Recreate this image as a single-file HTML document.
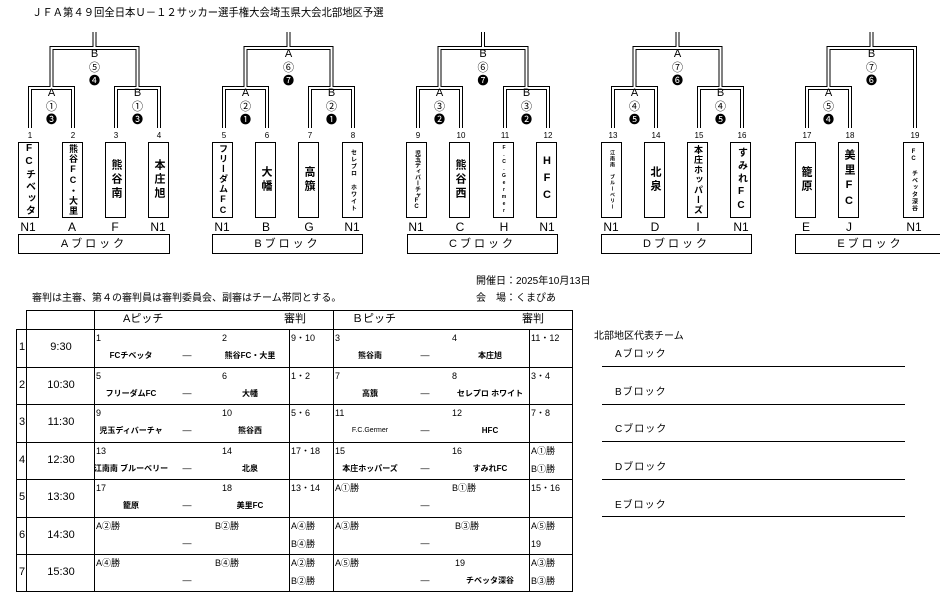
<!DOCTYPE html>
<html><head><meta charset="utf-8">
<style>
*{margin:0;padding:0;box-sizing:border-box}
body{width:940px;height:598px;background:#fff;position:relative;overflow:hidden;font-family:"Liberation Sans","Noto Sans CJK JP",sans-serif;color:#000}
.a{position:absolute;white-space:nowrap;line-height:1}
.box{position:absolute;top:142px;width:21px;height:76px;border:1px solid #000;writing-mode:vertical-rl;text-orientation:upright;font-weight:bold;display:flex;align-items:center;justify-content:center;line-height:1;overflow:hidden;white-space:nowrap}
.blk{position:absolute;top:234px;height:20px;border:1px solid #000;font-size:11px;text-align:center;line-height:18px;letter-spacing:3px}
.n{font-size:9px}
.t{font-size:8px;font-weight:bold;transform:translateX(-50%)}
.c{transform:translateX(-50%)}
.hl{position:absolute;height:1px;background:#000}
.vl{position:absolute;width:1px;background:#000}
</style></head><body>
<div class="a" style="left:32px;top:8px;font-size:11px;transform-origin:0 0;transform:scaleX(0.94)">ＪＦＡ第４９回全日本Ｕ－１２サッカー選手権大会埼玉県大会北部地区予選</div>

<svg width="940" height="260" style="position:absolute;left:0;top:0" font-family="Liberation Sans, Noto Sans CJK JP, sans-serif">
<g fill="none" stroke="#000" stroke-width="4">
<path d="M30 128V88H73V128M116 128V88H159V128M51.5 88V48H137.5V88M94.5 48V32"/>
<path d="M224 128V88H267V128M310 128V88H353V128M245.5 88V48H331.5V88M288.5 48V32"/>
<path d="M418 128V88H461V128M505 128V88H548V128M439.5 88V48H526.5V88M483 48V32"/>
<path d="M613 128V88H656V128M699 128V88H742V128M634.5 88V48H720.5V88M677.5 48V32"/>
<path d="M807 128V88H850V128M828.5 88V48H915V128M871.5 48V32"/>
</g>
<g fill="none" stroke="#fff" stroke-width="2">
<path d="M30 129V88H73V129M116 129V88H159V129M51.5 88V48H137.5V88M94.5 48V31"/>
<path d="M224 129V88H267V129M310 129V88H353V129M245.5 88V48H331.5V88M288.5 48V31"/>
<path d="M418 129V88H461V129M505 129V88H548V129M439.5 88V48H526.5V88M483 48V31"/>
<path d="M613 129V88H656V129M699 129V88H742V129M634.5 88V48H720.5V88M677.5 48V31"/>
<path d="M807 129V88H850V129M828.5 88V48H915V129M871.5 48V31"/>
</g>
<g font-size="11" text-anchor="middle">
<text x="51.5" y="96">A</text><text x="51.5" y="110">①</text><text x="51.5" y="123">❸</text>
<text x="137.5" y="96">B</text><text x="137.5" y="110">①</text><text x="137.5" y="123">❸</text>
<text x="94.5" y="57">B</text><text x="94.5" y="71">⑤</text><text x="94.5" y="84">❹</text>
<text x="245.5" y="96">A</text><text x="245.5" y="110">②</text><text x="245.5" y="123">❶</text>
<text x="331.5" y="96">B</text><text x="331.5" y="110">②</text><text x="331.5" y="123">❶</text>
<text x="288.5" y="57">A</text><text x="288.5" y="71">⑥</text><text x="288.5" y="84">❼</text>
<text x="439.5" y="96">A</text><text x="439.5" y="110">③</text><text x="439.5" y="123">❷</text>
<text x="526.5" y="96">B</text><text x="526.5" y="110">③</text><text x="526.5" y="123">❷</text>
<text x="483" y="57">B</text><text x="483" y="71">⑥</text><text x="483" y="84">❼</text>
<text x="634.5" y="96">A</text><text x="634.5" y="110">④</text><text x="634.5" y="123">❺</text>
<text x="720.5" y="96">B</text><text x="720.5" y="110">④</text><text x="720.5" y="123">❺</text>
<text x="677.5" y="57">A</text><text x="677.5" y="71">⑦</text><text x="677.5" y="84">❻</text>
<text x="828.5" y="96">A</text><text x="828.5" y="110">⑤</text><text x="828.5" y="123">❹</text>
<text x="871.5" y="57">B</text><text x="871.5" y="71">⑦</text><text x="871.5" y="84">❻</text>
</g>
<g font-size="8" text-anchor="middle">
<text x="30" y="138">1</text><text x="73" y="138">2</text><text x="116" y="138">3</text><text x="159" y="138">4</text>
<text x="224" y="138">5</text><text x="267" y="138">6</text><text x="310" y="138">7</text><text x="353" y="138">8</text>
<text x="418" y="138">9</text><text x="461" y="138">10</text><text x="505" y="138">11</text><text x="548" y="138">12</text>
<text x="613" y="138">13</text><text x="656" y="138">14</text><text x="699" y="138">15</text><text x="742" y="138">16</text>
<text x="807" y="138">17</text><text x="850" y="138">18</text><text x="915" y="138">19</text>
</g>
<g font-size="12" text-anchor="middle">
<text x="28" y="231">N1</text><text x="72" y="231">A</text><text x="115" y="231">F</text><text x="158" y="231">N1</text>
<text x="222" y="231">N1</text><text x="266" y="231">B</text><text x="309" y="231">G</text><text x="352" y="231">N1</text>
<text x="416" y="231">N1</text><text x="460" y="231">C</text><text x="504" y="231">H</text><text x="547" y="231">N1</text>
<text x="611" y="231">N1</text><text x="655" y="231">D</text><text x="698" y="231">I</text><text x="741" y="231">N1</text>
<text x="806" y="231">E</text><text x="849" y="231">J</text><text x="914" y="231">N1</text>
</g>
</svg>

<div class="box" style="left:18px;font-size:10px;letter-spacing:2px">FCチベッタ</div>
<div class="box" style="left:62px;font-size:9px;letter-spacing:1px">熊谷FC・大里</div>
<div class="box" style="left:105px;font-size:11px;letter-spacing:3px">熊谷南</div>
<div class="box" style="left:148px;font-size:11px;letter-spacing:3px">本庄旭</div>
<div class="box" style="left:212px;font-size:9px;letter-spacing:1px">フリーダムFC</div>
<div class="box" style="left:255px;font-size:11px;letter-spacing:3px">大幡</div>
<div class="box" style="left:298px;font-size:11px;letter-spacing:3px">高籏</div>
<div class="box" style="left:342px;font-size:6px;letter-spacing:1px">セレプロ　ホワイト</div>
<div class="box" style="left:406px;font-size:6px">児玉ディバーチャFC</div>
<div class="box" style="left:449px;font-size:11px;letter-spacing:3px">熊谷西</div>
<div class="box" style="left:493px;font-size:5px;letter-spacing:1px">F.C.Germer</div>
<div class="box" style="left:536px;font-size:11px;letter-spacing:5px">HFC</div>
<div class="box" style="left:601px;font-size:5px;letter-spacing:1px">江南南　ブルーベリー</div>
<div class="box" style="left:644px;font-size:11px;letter-spacing:3px">北泉</div>
<div class="box" style="left:687px;font-size:9px;letter-spacing:1px">本庄ホッパーズ</div>
<div class="box" style="left:730px;font-size:10px;letter-spacing:3px">すみれFC</div>
<div class="box" style="left:795px;font-size:11px;letter-spacing:3px">籠原</div>
<div class="box" style="left:838px;font-size:11px;letter-spacing:4px">美里FC</div>
<div class="box" style="left:903px;font-size:6px;letter-spacing:1px">FC　チベッタ深谷</div>

<div class="blk" style="left:18px;width:152px">Aブロック</div>
<div class="blk" style="left:212px;width:151px">Bブロック</div>
<div class="blk" style="left:407px;width:151px">Cブロック</div>
<div class="blk" style="left:601px;width:151px">Dブロック</div>
<div class="blk" style="left:795px;width:151px">Eブロック</div>

<div class="a" style="left:476px;top:277px;font-size:10px">開催日：2025年10月13日</div>
<div class="a" style="left:32px;top:294px;font-size:10px">審判は主審、第４の審判員は審判委員会、副審はチーム帯同とする。</div>
<div class="a" style="left:476px;top:294px;font-size:10px">会　場：くまぴあ</div>

<div class="hl" style="left:26px;top:310px;width:547px"></div>
<div class="hl" style="left:16px;top:329px;width:557px"></div>
<div class="hl" style="left:16px;top:367px;width:557px"></div>
<div class="hl" style="left:16px;top:404px;width:557px"></div>
<div class="hl" style="left:16px;top:442px;width:557px"></div>
<div class="hl" style="left:16px;top:479px;width:557px"></div>
<div class="hl" style="left:16px;top:517px;width:557px"></div>
<div class="hl" style="left:16px;top:554px;width:557px"></div>
<div class="hl" style="left:16px;top:591px;width:557px"></div>
<div class="vl" style="left:16px;top:329px;height:263px"></div>
<div class="vl" style="left:26px;top:310px;height:282px"></div>
<div class="vl" style="left:94px;top:310px;height:282px"></div>
<div class="vl" style="left:289px;top:329px;height:263px"></div>
<div class="vl" style="left:333px;top:310px;height:282px"></div>
<div class="vl" style="left:529px;top:329px;height:263px"></div>
<div class="vl" style="left:572px;top:310px;height:282px"></div>

<div class="a" style="left:123px;top:314px;font-size:11px">Aピッチ</div>
<div class="a" style="left:284px;top:314px;font-size:11px">審判</div>
<div class="a" style="left:352px;top:314px;font-size:11px">Ｂピッチ</div>
<div class="a" style="left:522px;top:314px;font-size:11px">審判</div>

<div class="a" style="left:19px;top:342px;font-size:11px">1</div><div class="a c" style="left:61px;top:342px;font-size:11px">9:30</div>
<div class="a" style="left:19px;top:380px;font-size:11px">2</div><div class="a c" style="left:61px;top:380px;font-size:11px">10:30</div>
<div class="a" style="left:19px;top:417px;font-size:11px">3</div><div class="a c" style="left:61px;top:417px;font-size:11px">11:30</div>
<div class="a" style="left:19px;top:455px;font-size:11px">4</div><div class="a c" style="left:61px;top:455px;font-size:11px">12:30</div>
<div class="a" style="left:19px;top:492px;font-size:11px">5</div><div class="a c" style="left:61px;top:492px;font-size:11px">13:30</div>
<div class="a" style="left:19px;top:530px;font-size:11px">6</div><div class="a c" style="left:61px;top:530px;font-size:11px">14:30</div>
<div class="a" style="left:19px;top:567px;font-size:11px">7</div><div class="a c" style="left:61px;top:567px;font-size:11px">15:30</div>

<div class="a n" style="left:96px;top:334px">1</div><div class="a n" style="left:222px;top:334px">2</div><div class="a n" style="left:291px;top:334px">9・10</div>
<div class="a t" style="left:131px;top:352px">FCチベッタ</div><div class="a c" style="left:187px;top:351px;font-size:9px">―</div><div class="a t" style="left:250px;top:352px">熊谷FC・大里</div>
<div class="a n" style="left:335px;top:334px">3</div><div class="a n" style="left:452px;top:334px">4</div><div class="a n" style="left:531px;top:334px">11・12</div>
<div class="a t" style="left:370px;top:352px">熊谷南</div><div class="a c" style="left:425px;top:351px;font-size:9px">―</div><div class="a t" style="left:490px;top:352px">本庄旭</div>
<div class="a n" style="left:96px;top:372px">5</div><div class="a n" style="left:222px;top:372px">6</div><div class="a n" style="left:291px;top:372px">1・2</div>
<div class="a t" style="left:131px;top:390px">フリーダムFC</div><div class="a c" style="left:187px;top:389px;font-size:9px">―</div><div class="a t" style="left:250px;top:390px">大幡</div>
<div class="a n" style="left:335px;top:372px">7</div><div class="a n" style="left:452px;top:372px">8</div><div class="a n" style="left:531px;top:372px">3・4</div>
<div class="a t" style="left:370px;top:390px">高籏</div><div class="a c" style="left:425px;top:389px;font-size:9px">―</div><div class="a t" style="left:490px;top:390px">セレプロ ホワイト</div>
<div class="a n" style="left:96px;top:409px">9</div><div class="a n" style="left:222px;top:409px">10</div><div class="a n" style="left:291px;top:409px">5・6</div>
<div class="a t" style="left:131px;top:427px">児玉ディバーチャ</div><div class="a c" style="left:187px;top:426px;font-size:9px">―</div><div class="a t" style="left:250px;top:427px">熊谷西</div>
<div class="a n" style="left:335px;top:409px">11</div><div class="a n" style="left:452px;top:409px">12</div><div class="a n" style="left:531px;top:409px">7・8</div>
<div class="a t" style="left:370px;top:427px;font-weight:normal;font-size:7px">F.C.Germer</div><div class="a c" style="left:425px;top:426px;font-size:9px">―</div><div class="a t" style="left:490px;top:427px">HFC</div>
<div class="a n" style="left:96px;top:447px">13</div><div class="a n" style="left:222px;top:447px">14</div><div class="a n" style="left:291px;top:447px">17・18</div>
<div class="a t" style="left:131px;top:465px">江南南 ブルーベリー</div><div class="a c" style="left:187px;top:464px;font-size:9px">―</div><div class="a t" style="left:250px;top:465px">北泉</div>
<div class="a n" style="left:335px;top:447px">15</div><div class="a n" style="left:452px;top:447px">16</div><div class="a n" style="left:531px;top:447px">A①勝</div>
<div class="a t" style="left:370px;top:465px">本庄ホッパーズ</div><div class="a c" style="left:425px;top:464px;font-size:9px">―</div><div class="a t" style="left:490px;top:465px">すみれFC</div><div class="a n" style="left:531px;top:465px">B①勝</div>
<div class="a n" style="left:96px;top:484px">17</div><div class="a n" style="left:222px;top:484px">18</div><div class="a n" style="left:291px;top:484px">13・14</div>
<div class="a t" style="left:131px;top:502px">籠原</div><div class="a c" style="left:187px;top:501px;font-size:9px">―</div><div class="a t" style="left:250px;top:502px">美里FC</div>
<div class="a n" style="left:335px;top:484px">A①勝</div><div class="a n" style="left:452px;top:484px">B①勝</div><div class="a n" style="left:531px;top:484px">15・16</div>
<div class="a c" style="left:425px;top:501px;font-size:9px">―</div>
<div class="a n" style="left:96px;top:522px">A②勝</div><div class="a n" style="left:215px;top:522px">B②勝</div><div class="a n" style="left:291px;top:522px">A④勝</div><div class="a n" style="left:291px;top:540px">B④勝</div>
<div class="a c" style="left:187px;top:539px;font-size:9px">―</div>
<div class="a n" style="left:335px;top:522px">A③勝</div><div class="a n" style="left:455px;top:522px">B③勝</div><div class="a n" style="left:531px;top:522px">A⑤勝</div><div class="a n" style="left:531px;top:540px">19</div>
<div class="a c" style="left:425px;top:539px;font-size:9px">―</div>
<div class="a n" style="left:96px;top:559px">A④勝</div><div class="a n" style="left:215px;top:559px">B④勝</div><div class="a n" style="left:291px;top:559px">A②勝</div><div class="a n" style="left:291px;top:577px">B②勝</div>
<div class="a c" style="left:187px;top:576px;font-size:9px">―</div>
<div class="a n" style="left:335px;top:559px">A⑤勝</div><div class="a n" style="left:455px;top:559px">19</div><div class="a n" style="left:531px;top:559px">A③勝</div><div class="a n" style="left:531px;top:577px">B③勝</div>
<div class="a c" style="left:425px;top:576px;font-size:9px">―</div><div class="a t" style="left:490px;top:577px">チベッタ深谷</div>

<div class="a" style="left:594px;top:332px;font-size:10px">北部地区代表チーム</div>
<div class="a" style="left:615px;top:350px;font-size:10px;letter-spacing:1px">Aブロック</div>
<div class="hl" style="left:602px;top:366px;width:303px"></div>
<div class="a" style="left:615px;top:388px;font-size:10px;letter-spacing:1px">Bブロック</div>
<div class="hl" style="left:602px;top:404px;width:303px"></div>
<div class="a" style="left:615px;top:425px;font-size:10px;letter-spacing:1px">Cブロック</div>
<div class="hl" style="left:602px;top:441px;width:303px"></div>
<div class="a" style="left:615px;top:463px;font-size:10px;letter-spacing:1px">Dブロック</div>
<div class="hl" style="left:602px;top:479px;width:303px"></div>
<div class="a" style="left:615px;top:501px;font-size:10px;letter-spacing:1px">Eブロック</div>
<div class="hl" style="left:602px;top:516px;width:303px"></div>
</body></html>
